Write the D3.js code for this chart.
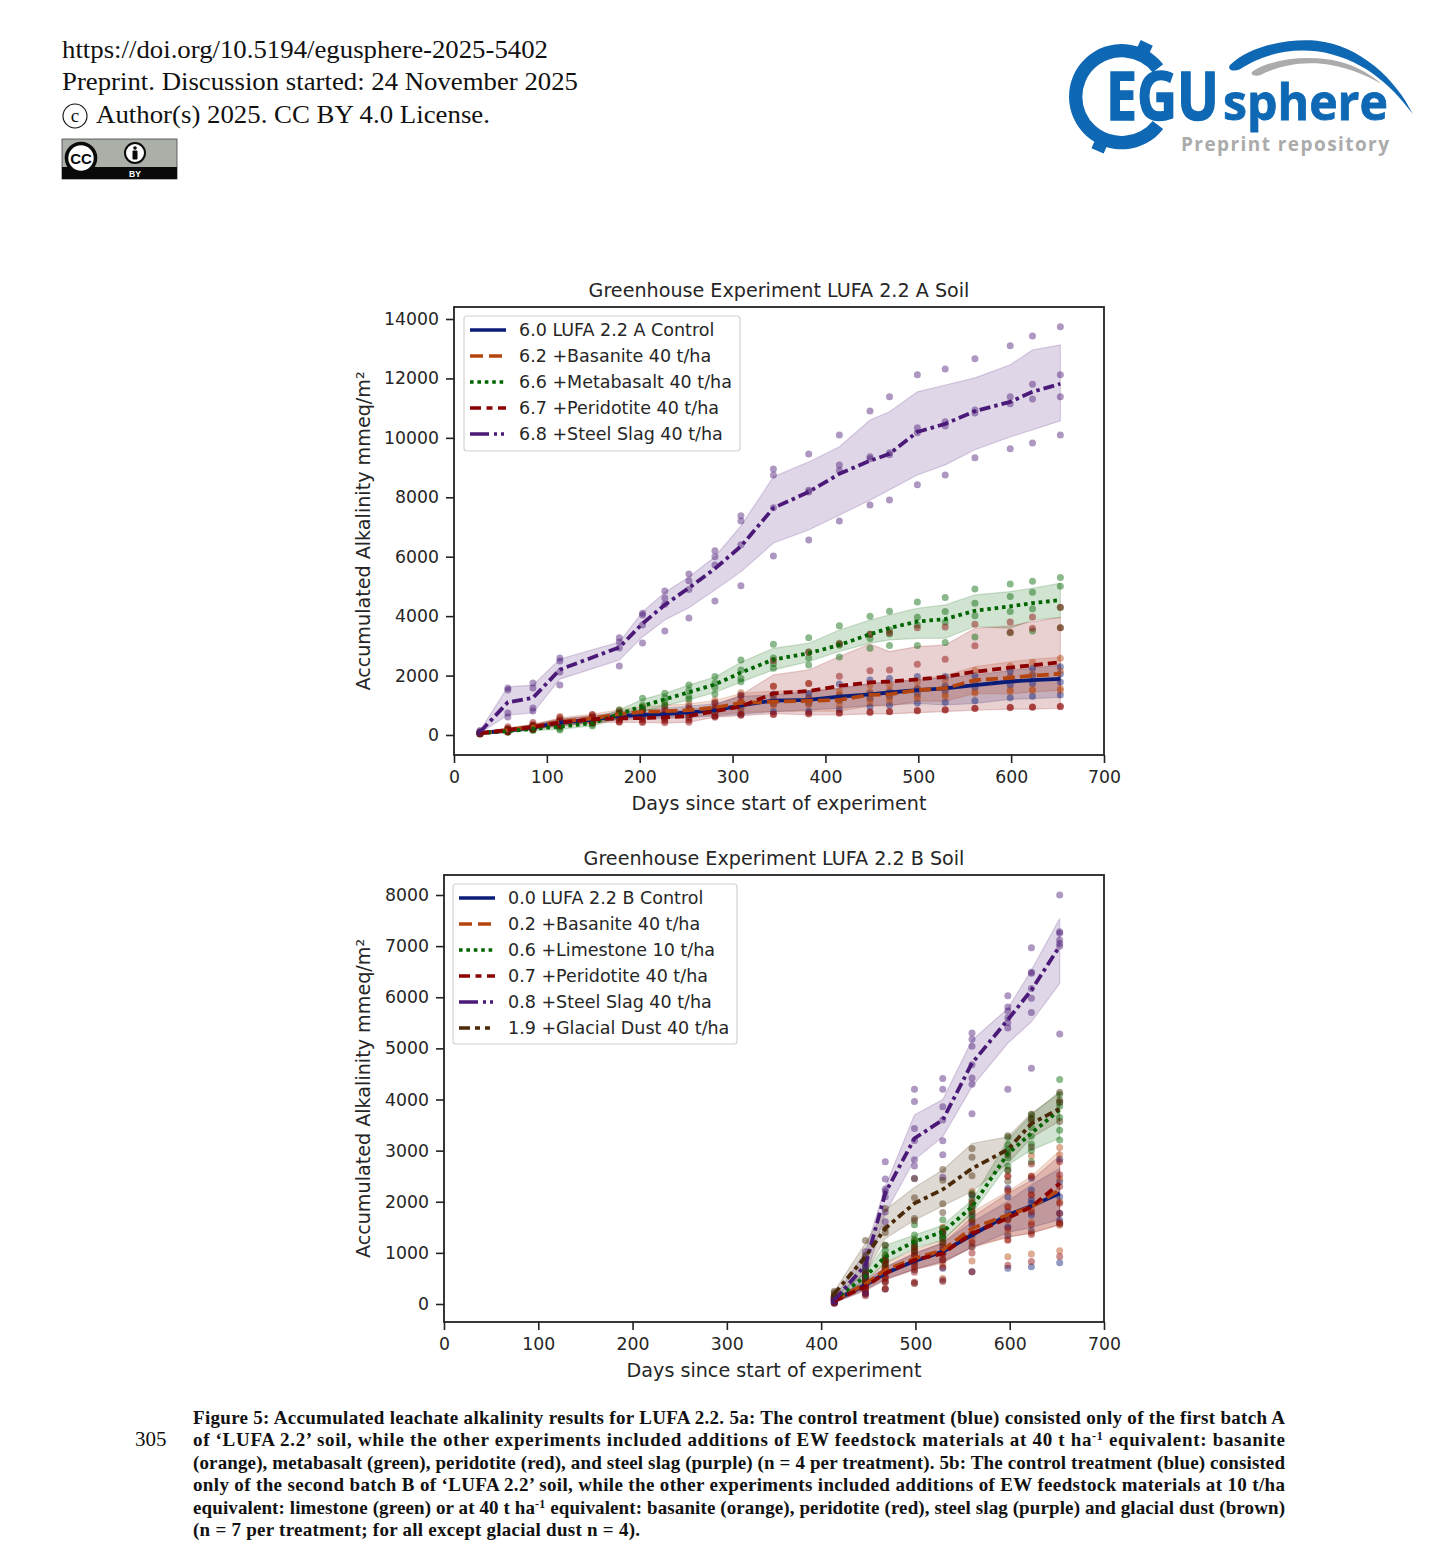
<!DOCTYPE html>
<html><head><meta charset="utf-8">
<script src="https://cdnjs.cloudflare.com/ajax/libs/d3/7.8.5/d3.min.js"></script>
<style>html,body{margin:0;padding:0;background:#fff}svg{display:block}</style>
</head><body><svg id="c" width="1456" height="1556"></svg>
<script>
// ---------- Chart A data ----------
const daysA=[28,58,85,114,149,178,203,227,253,281,309,344,382,415,448,469,499,529,561,599,623,653];
const titleA="Greenhouse Experiment LUFA 2.2 A Soil";
const ticksXA=[0,100,200,300,400,500,600,700];
const ticksYA=[0,2000,4000,6000,8000,10000,12000,14000];
const labelsA=["6.0 LUFA 2.2 A Control","6.2 +Basanite 40 t/ha","6.6 +Metabasalt 40 t/ha","6.7 +Peridotite 40 t/ha","6.8 +Steel Slag 40 t/ha"];

const meanA_control=[60,150,260,420,520,640,680,700,760,830,1000,1160,1180,1290,1370,1430,1510,1570,1680,1800,1850,1890];
const hiA_control=[90,210,340,530,640,780,850,900,970,1050,1300,1350,1460,1573,1740,1800,1850,1940,2020,2170,2250,2360];
const loA_control=[40,100,190,320,420,520,540,560,590,640,700,788,843,900,990,1010,1060,1010,1060,1200,1225,1270];
const dotsA_control=[
[80,200,330,520,640,780,860,920,960,1060,1350,1370,1400,1720,1850,1900,1966,1966,1990,2150,2250,2300],
[60,160,280,450,540,670,700,720,800,880,1020,1200,1250,1300,1400,1450,1560,1650,1800,1950,2000,2050],
[50,130,230,380,480,580,610,620,680,760,900,1050,1070,1180,1250,1320,1400,1480,1600,1680,1730,1780],
[40,100,190,320,420,520,540,560,590,640,700,780,800,860,950,1000,1080,1100,1150,1250,1300,1350]];

const meanA_basanite=[55,160,280,440,560,700,780,800,840,920,1080,1120,1150,1180,1350,1370,1510,1570,1850,1920,2000,2060];
const hiA_basanite=[85,220,350,580,700,850,950,1000,1050,1160,1400,1480,1500,1560,1720,1760,1880,2000,2300,2460,2550,2620];
const loA_basanite=[35,100,200,300,420,550,610,600,630,680,760,790,800,800,980,980,1140,1140,1400,1380,1450,1500];
const dotsA_basanite=[
[90,230,360,620,680,840,950,1000,1060,1180,1420,1640,1730,1460,1685,1685,1800,1854,2168,2325,2450,2583],
[60,180,290,500,590,720,780,800,850,950,1150,1300,1240,1360,1460,1500,1580,1600,1750,1950,2050,2150],
[50,140,240,400,500,620,680,690,720,800,950,1050,1100,1150,1200,1250,1300,1350,1450,1517,1540,1573],
[40,100,180,300,400,490,530,540,580,650,780,990,1012,1012,1102,1147,1236,1292,1405,1460,1500,1500]];

const meanA_metabasalt=[60,130,210,280,400,700,980,1200,1440,1700,2100,2540,2750,3030,3390,3600,3820,3900,4180,4330,4440,4540];
const hiA_metabasalt=[90,180,280,380,500,850,1200,1400,1680,1950,2450,2918,3090,3535,3870,4040,4265,4378,4715,4827,4940,5106];
const loA_metabasalt=[35,90,150,190,310,560,780,980,1180,1430,1780,2190,2470,2810,3090,3200,3255,3255,3650,3590,3870,3960];
const dotsA_metabasalt=[
[90,190,300,400,510,842,1235,1403,1683,1970,2525,3053,3277,3680,4000,4165,4480,4625,4915,5085,5175,5300],
[70,150,230,300,420,730,1000,1250,1500,1750,2190,2590,2800,3090,3390,3535,3960,4153,4433,4658,4805,5005],
[50,120,180,220,360,700,898,1120,1300,1600,1900,2400,2590,3020,3250,3400,3700,3800,4017,4153,4245,4290],
[35,100,150,168,303,650,850,1010,1200,1380,1796,2245,2357,2625,2920,3010,3010,3110,3300,3445,3500,3610]];

const meanA_peridotite=[60,170,270,420,530,560,570,590,640,800,960,1400,1480,1650,1770,1800,1870,1960,2130,2270,2350,2450];
const hiA_peridotite=[95,240,360,540,650,700,730,790,850,1000,1347,2022,2190,2640,3065,2807,2975,3030,3593,3670,3817,3960];
const loA_peridotite=[30,100,190,310,410,430,420,400,430,600,650,720,680,680,710,710,750,790,840,870,870,900];
const dotsA_peridotite=[
[100,280,420,590,690,740,760,830,890,1090,1320,2504,2780,3060,3390,3445,3610,3635,3725,3800,3970,4300],
[70,190,310,470,600,640,650,670,720,880,1100,1640,1730,1975,2165,2190,2380,2550,3000,3460,3590,3610],
[50,120,220,350,450,450,450,470,500,640,700,700,730,750,770,790,830,850,900,930,940,950],
[30,100,190,310,410,430,420,410,430,600,660,690,710,730,760,780,810,840,890,920,930,965]];

const meanA_slag=[100,1100,1250,2200,null,2950,3750,4380,4950,5600,6350,7640,8180,8790,9230,9460,10200,10470,10900,11210,11550,11820];
const hiA_slag=[150,1620,1680,2560,null,3130,4140,4800,5320,6000,7040,8690,9190,9700,10600,10880,11550,11780,12020,12460,12960,13130];
const loA_slag=[60,670,740,1880,null,2520,3300,3870,4280,4880,5490,6460,6900,7400,7900,8250,8750,9090,9600,10030,10270,10570];
const dotsA_slag=[
[150,1580,1750,2590,null,3270,4100,4850,5420,6200,7380,8950,9460,10100,10900,11380,12120,12320,12660,13100,13430,13740],
[110,1515,1580,2490,null,3130,4040,4610,5190,6000,7200,8750,8240,9090,9360,9500,10340,10540,10940,11380,11800,12120],
[80,740,910,2120,null,2930,3700,4400,4900,5720,6400,7650,8180,8900,9300,9430,10170,10400,10840,11150,11310,11380],
[60,606,808,1680,null,2320,3100,3500,3940,4510,5020,6020,6560,7200,7740,7910,8420,8750,9330,9630,9830,10100]];

// ---------- Chart B data ----------
const daysB=[414,447,468,499,529,560,598,623,653];
const titleB="Greenhouse Experiment LUFA 2.2 B Soil";
const ticksXB=[0,100,200,300,400,500,600,700];
const ticksYB=[0,1000,2000,3000,4000,5000,6000,7000,8000];
const labelsB=["0.0 LUFA 2.2 B Control","0.2 +Basanite 40 t/ha","0.6 +Limestone 10 t/ha","0.7 +Peridotite 40 t/ha","0.8 +Steel Slag 40 t/ha","1.9 +Glacial Dust 40 t/ha"];

const meanB_control=[60,372,600,841,1024,1350,1740,1917,2165];
const hiB_control=[100,450,720,980,1200,1600,2010,2330,2650];
const loB_control=[30,280,480,680,830,1100,1400,1500,1650];
const dotsB_control=[
[143,632,860,1186,1382,2132,2262,2458,2830],
[124,535,795,1056,1284,1904,2099,2230,2393],
[104,469,697,958,1121,1708,1806,2034,2099],
[91,404,632,860,991,1545,1675,1969,1773],
[78,339,535,795,860,1350,1512,1740,1643],
[46,274,437,665,697,1121,1336,1434,1565],
[13,189,287,404,469,632,697,730,808]];

const meanB_basanite=[70,390,660,890,1050,1480,1740,1900,2230];
const hiB_basanite=[110,470,800,1060,1250,1800,2200,2500,3000];
const loB_basanite=[30,300,500,680,830,1100,1300,1400,1550];
const dotsB_basanite=[
[160,660,950,1240,1500,2200,2500,2900,3060],
[130,560,830,1100,1300,1900,2200,2500,2920],
[100,470,730,970,1150,1650,1900,2150,2450],
[80,400,650,880,1020,1400,1650,1850,2000],
[60,340,540,780,900,1250,1400,1600,1580],
[40,280,450,680,780,1120,1250,1400,1540],
[20,200,300,400,500,841,926,978,1043]];

const meanB_limestone=[90,540,925,1220,1410,1900,2940,3340,3800];
const hiB_limestone=[130,620,1150,1350,1540,2030,3210,3700,4160];
const loB_limestone=[50,450,800,1090,1250,1770,2720,3010,3240];
const dotsB_limestone=[
[150,700,1150,1550,1650,2160,3260,3700,4390],
[120,640,1050,1350,1480,2050,3120,3630,4100],
[100,580,960,1260,1430,1960,3020,3450,3950],
[80,530,900,1220,1380,1900,2980,3280,3870],
[70,500,860,1150,1320,1800,2860,3130,3650],
[50,450,800,1100,1280,1750,2700,3000,3400],
[40,400,740,1020,1200,1650,2620,2780,3210]];

const meanB_peridotite=[60,340,600,860,990,1380,1680,1900,2360];
const hiB_peridotite=[100,420,720,1000,1190,1700,2160,2420,2900];
const loB_peridotite=[25,260,470,670,800,1120,1310,1380,1550];
const dotsB_peridotite=[
[130,570,860,1120,1420,2000,2500,2740,2780],
[105,480,780,1030,1200,1800,2230,2500,2530],
[85,400,680,950,1060,1600,1900,2130,2300],
[70,340,600,840,980,1380,1650,1800,1970],
[50,270,500,730,860,1200,1480,1550,1770],
[30,210,420,620,720,1000,1250,1360,1590],
[15,160,300,430,440,630,760,830,930]];

const meanB_slag=[80,760,2170,3240,3600,4710,5560,6140,7000];
const hiB_slag=[110,1030,2300,3700,4000,5160,5780,6530,7540];
const loB_slag=[50,500,1770,2820,3270,4250,5100,5520,6270];
const dotsB_slag=[
[130,1020,2780,4200,4410,5300,6030,6970,8000],
[100,900,2445,3960,4200,5180,5810,6490,7283],
[90,800,2250,3435,3860,5040,5730,6470,7250],
[80,750,2200,3200,3600,4680,5600,6170,7120],
[70,700,2100,2820,3195,4420,5500,5980,7050],
[50,550,1800,2700,2920,4300,5400,5700,7000],
[40,210,1610,2460,2480,3720,4200,4610,5280]];

const meanB_dust=[200,925,1480,1970,2240,2650,3020,3530,3820];
const hiB_dust=[250,1190,1840,2280,2620,3140,3270,3730,4120];
const loB_dust=[150,600,1280,1640,1920,2200,2750,3250,3580];
const dotsB_dust=[
[250,1240,1870,2450,2630,3040,3290,3710,4140],
[220,950,1480,2080,2420,2870,2920,3630,3990],
[180,795,1400,1670,1790,2510,2610,3570,3940],
[150,600,1150,1630,1960,2130,2400,3070,3570]];

// ---------- styles ----------
const cBlue="#0a1c78",cOrange="#b5450f",cGreen="#006400",cRed="#8b0000",cPurple="#4b1a78",cBrown="#4a2a08";
const dashSolid=null,dashLong="12,5",dashDot="3.6,3.8",dashShort="9,5",dashDD="11,4,3.5,4",dashBrown="8,4,4,4";
const legDash={[dashDD]:"19,5,3,4,3,4",[dashShort]:"11,5.5,6,5.5,11",[dashLong]:"13,6,13",[dashBrown]:"11,5,5,5,5,5"};
const ink="#262626",FONT="'DejaVu Sans',sans-serif";

const svg=d3.select("#c");

function chart(o){
  const g=svg.append("g");
  const x=d3.scaleLinear().domain([0,700]).range([o.left,o.right]);
  const y=d3.scaleLinear().domain([o.yMin,o.yMax]).range([o.y0,o.y1]);
  g.append("g").attr("transform",`translate(0,${o.bottom})`)
    .call(d3.axisBottom(x).tickValues(o.ticksX).tickSize(8).tickPadding(8))
    .call(s=>{s.select(".domain").remove();s.selectAll("line").attr("stroke","#222").attr("stroke-width",1.6);
      s.selectAll("text").attr("font-family",FONT).attr("font-size",17.3).attr("fill",ink);});
  g.append("g").attr("transform",`translate(${o.left},0)`)
    .call(d3.axisLeft(y).tickValues(o.ticksY).tickSize(8).tickPadding(7).tickFormat(d3.format("d")))
    .call(s=>{s.select(".domain").remove();s.selectAll("line").attr("stroke","#222").attr("stroke-width",1.6);
      s.selectAll("text").attr("font-family",FONT).attr("font-size",17.3).attr("fill",ink);});
  o.series.forEach(s=>{
    const pts=o.days.map((d,i)=>({d,m:s.mean[i],h:s.hi[i],l:s.lo[i]})).filter(p=>p.m!=null);
    g.append("path").datum(pts).attr("fill",s.color).attr("fill-opacity",.18)
      .attr("stroke",s.color).attr("stroke-opacity",.18).attr("stroke-width",1.2)
      .attr("d",d3.area().x(p=>x(p.d)).y0(p=>y(p.l)).y1(p=>y(p.h)));
  });
  o.series.forEach(s=>{
    s.dots.forEach(rep=>{
      g.append("g").selectAll("circle").data(o.days.map((d,i)=>({d,v:rep[i]})).filter(p=>p.v!=null))
        .join("circle").attr("cx",p=>x(p.d)).attr("cy",p=>y(p.v)).attr("r",3.5)
        .attr("fill",s.color).attr("fill-opacity",.45);
    });
  });
  o.series.forEach(s=>{
    const pts=o.days.map((d,i)=>({d,m:s.mean[i]})).filter(p=>p.m!=null);
    g.append("path").datum(pts).attr("fill","none").attr("stroke",s.color).attr("stroke-width",3.8)
      .attr("stroke-dasharray",s.dash).attr("d",d3.line().x(p=>x(p.d)).y(p=>y(p.m)));
  });
  g.append("rect").attr("x",o.left).attr("y",o.top).attr("width",o.right-o.left).attr("height",o.bottom-o.top)
    .attr("fill","none").attr("stroke","#222").attr("stroke-width",1.8);
  // legend
  const L=o.legend;
  g.append("rect").attr("x",L.x).attr("y",L.y).attr("width",L.w).attr("height",L.h).attr("rx",3)
    .attr("fill","#fff").attr("fill-opacity",.85).attr("stroke","#d2d2d2").attr("stroke-width",1.2);
  o.series.forEach((s,i)=>{
    const ly=L.first+i*L.step;
    g.append("line").attr("x1",L.x+6).attr("x2",L.x+42).attr("y1",ly).attr("y2",ly)
      .attr("stroke",s.color).attr("stroke-width",3.6).attr("stroke-dasharray",legDash[s.dash]||s.dash);
    g.append("text").attr("x",L.x+55).attr("y",ly+6.2).attr("font-family",FONT).attr("font-size",17.5)
      .attr("fill",ink).text(s.label);
  });
  g.append("text").attr("x",(o.left+o.right)/2).attr("y",o.top-10).attr("text-anchor","middle")
    .attr("font-family",FONT).attr("font-size",19.15).attr("fill",ink).text(o.title);
  g.append("text").attr("x",(o.left+o.right)/2).attr("y",o.bottom+55).attr("text-anchor","middle")
    .attr("font-family",FONT).attr("font-size",19.15).attr("fill",ink).text("Days since start of experiment");
  g.append("text").attr("transform",`translate(370,${(o.top+o.bottom)/2}) rotate(-90)`).attr("text-anchor","middle")
    .attr("font-family",FONT).attr("font-size",19.15).attr("fill",ink).text("Accumulated Alkalinity mmeq/m²");
}

chart({title:titleA,days:daysA,ticksX:ticksXA,ticksY:ticksYA,left:454,right:1104,top:307,bottom:755,y0:735,y1:319,yMin:0,yMax:14000,
  legend:{x:464,y:316,w:276,h:135,first:330,step:26},
  series:[
   {label:labelsA[0],color:cBlue,dash:dashSolid,mean:meanA_control,hi:hiA_control,lo:loA_control,dots:dotsA_control},
   {label:labelsA[1],color:cOrange,dash:dashLong,mean:meanA_basanite,hi:hiA_basanite,lo:loA_basanite,dots:dotsA_basanite},
   {label:labelsA[2],color:cGreen,dash:dashDot,mean:meanA_metabasalt,hi:hiA_metabasalt,lo:loA_metabasalt,dots:dotsA_metabasalt},
   {label:labelsA[3],color:cRed,dash:dashShort,mean:meanA_peridotite,hi:hiA_peridotite,lo:loA_peridotite,dots:dotsA_peridotite},
   {label:labelsA[4],color:cPurple,dash:dashDD,mean:meanA_slag,hi:hiA_slag,lo:loA_slag,dots:dotsA_slag}]});

chart({title:titleB,days:daysB,ticksX:ticksXB,ticksY:ticksYB,left:444,right:1104,top:875,bottom:1322,y0:1304,y1:895,yMin:0,yMax:8000,
  legend:{x:453,y:884,w:284,h:160,first:898,step:26},
  series:[
   {label:labelsB[0],color:cBlue,dash:dashSolid,mean:meanB_control,hi:hiB_control,lo:loB_control,dots:dotsB_control},
   {label:labelsB[1],color:cOrange,dash:dashLong,mean:meanB_basanite,hi:hiB_basanite,lo:loB_basanite,dots:dotsB_basanite},
   {label:labelsB[2],color:cGreen,dash:dashDot,mean:meanB_limestone,hi:hiB_limestone,lo:loB_limestone,dots:dotsB_limestone},
   {label:labelsB[3],color:cRed,dash:dashShort,mean:meanB_peridotite,hi:hiB_peridotite,lo:loB_peridotite,dots:dotsB_peridotite},
   {label:labelsB[4],color:cPurple,dash:dashDD,mean:meanB_slag,hi:hiB_slag,lo:loB_slag,dots:dotsB_slag},
   {label:labelsB[5],color:cBrown,dash:dashBrown,mean:meanB_dust,hi:hiB_dust,lo:loB_dust,dots:dotsB_dust}]});

// ---------- page furniture ----------
const SERIF="'Liberation Serif',serif";
const headerLines=[["https://doi.org/10.5194/egusphere-2025-5402",58,486],["Preprint. Discussion started: 24 November 2025",90,516]];
headerLines.forEach(h=>svg.append("text").attr("x",62).attr("y",h[1]).attr("font-family",SERIF).attr("font-size",26)
  .attr("textLength",h[2]).attr("lengthAdjust","spacingAndGlyphs").attr("fill","#111").text(h[0]));
svg.append("circle").attr("cx",75).attr("cy",116).attr("r",12).attr("fill","none").attr("stroke","#111").attr("stroke-width",1.1);
svg.append("text").attr("x",75).attr("y",122).attr("text-anchor","middle").attr("font-family",SERIF).attr("font-size",19).attr("fill","#111").text("c");
svg.append("text").attr("x",96).attr("y",123).attr("font-family",SERIF).attr("font-size",26).attr("textLength",394)
  .attr("lengthAdjust","spacingAndGlyphs").attr("fill","#111").text("Author(s) 2025. CC BY 4.0 License.");
// CC badge
svg.append("rect").attr("x",62).attr("y",139).attr("width",115).attr("height",40).attr("fill","#aab0a8").attr("stroke","#444").attr("stroke-width",.8);
svg.append("rect").attr("x",62).attr("y",167).attr("width",115).attr("height",12).attr("fill","#0a0a0a");
svg.append("circle").attr("cx",81).attr("cy",158).attr("r",14.5).attr("fill","#fff").attr("stroke","#0a0a0a").attr("stroke-width",3.6);
svg.append("text").attr("x",81).attr("y",163.5).attr("text-anchor","middle").attr("font-family","'Liberation Sans',sans-serif").attr("font-weight","bold").attr("font-size",15).attr("fill","#0a0a0a").text("CC");
svg.append("circle").attr("cx",135).attr("cy",153).attr("r",10).attr("fill","#fff").attr("stroke","#0a0a0a").attr("stroke-width",2);
svg.append("circle").attr("cx",135).attr("cy",148).attr("r",1.8).attr("fill","#0a0a0a");
svg.append("rect").attr("x",132.5).attr("y",150.5).attr("width",5).attr("height",9).attr("rx",1).attr("fill","#0a0a0a");
svg.append("text").attr("x",135).attr("y",176.5).attr("text-anchor","middle").attr("font-family","'Liberation Sans',sans-serif").attr("font-weight","bold").attr("font-size",8.5).attr("fill","#fff").text("BY");
// logo
const logoBlue="#0f68b4";
const logo=svg.append("g").attr("transform","translate(1050,20) scale(.33333)");
const deg=Math.PI/180;
logo.append("path").attr("transform","translate(215,230)").attr("fill",logoBlue)
  .attr("d",d3.arc().innerRadius(118).outerRadius(158).startAngle(128*deg).endAngle(412*deg)());
logo.append("rect").attr("x",-20).attr("y",-178).attr("width",40).attr("height",34).attr("fill",logoBlue).attr("transform","translate(215,230) rotate(25)");
logo.append("rect").attr("x",-20).attr("y",-178).attr("width",40).attr("height",34).attr("fill",logoBlue).attr("transform","translate(215,230) rotate(204)");
logo.append("path").attr("fill",logoBlue).attr("d","M540,135 C600,75 720,55 800,62 C930,75 1040,180 1088,282 C1020,190 930,112 800,94 C700,82 620,115 570,148 C550,156 530,150 540,135 Z");
logo.append("path").attr("fill","#ababab").attr("d","M606,155 C670,112 790,105 870,125 C925,140 965,165 995,192 C945,165 880,135 800,130 C730,126 670,145 630,166 C615,170 600,165 606,155 Z");
svg.append("text").attr("x",1106).attr("y",120).attr("font-family","'Open Sans',sans-serif").attr("font-weight","bold").attr("font-size",66).attr("fill",logoBlue).attr("stroke",logoBlue).attr("stroke-width",1.6)
  .attr("textLength",113).attr("lengthAdjust","spacingAndGlyphs").text("EGU");
svg.append("text").attr("x",1223).attr("y",120).attr("font-family","'Open Sans',sans-serif").attr("font-weight","bold").attr("font-size",51).attr("fill",logoBlue).attr("stroke",logoBlue).attr("stroke-width",.8)
  .attr("textLength",165).attr("lengthAdjust","spacingAndGlyphs").text("sphere");
svg.append("text").attr("x",1181).attr("y",151).attr("font-family","'Open Sans',sans-serif").attr("font-weight","bold").attr("font-size",19).attr("fill","#ababab")
  .attr("textLength",208).text("Preprint repository");
// caption
const captionLines=[
 [[ "Figure 5: Accumulated leachate alkalinity results for LUFA 2.2. 5a: The control treatment (blue) consisted only of the first batch A"]],
 [[ "of ‘LUFA 2.2’ soil, while the other experiments included additions of EW feedstock materials at 40 t ha"],["-1",1],[" equivalent: basanite"]],
 [[ "(orange), metabasalt (green), peridotite (red), and steel slag (purple) (n = 4 per treatment). 5b: The control treatment (blue) consisted"]],
 [[ "only of the second batch B of ‘LUFA 2.2’ soil, while the other experiments included additions of EW feedstock materials at 10 t/ha"]],
 [[ "equivalent: limestone (green) or at 40 t ha"],["-1",1],[" equivalent: basanite (orange), peridotite (red), steel slag (purple) and glacial dust (brown)"]],
 [[ "(n = 7 per treatment; for all except glacial dust n = 4)."]]];
const captionY=[1424,1446,1469,1491,1514,1536];
captionLines.forEach((parts,i)=>{
  const t=svg.append("text").attr("x",193).attr("y",captionY[i]).attr("font-family",SERIF).attr("font-weight","bold").attr("font-size",19).attr("fill","#111");
  if(i<5)t.attr("textLength",1092);else t.attr("textLength",447);
  let sup=false;
  parts.forEach(p=>{
    const s=t.append("tspan").text(p[0]);
    if(p[1]){s.attr("dy",-6).attr("font-size",12);sup=true;}
    else if(sup){s.attr("dy",6);sup=false;}
  });
});
svg.append("text").attr("x",135).attr("y",1446).attr("font-family",SERIF).attr("font-size",21).attr("fill","#111").text("305");
</script></body></html>
